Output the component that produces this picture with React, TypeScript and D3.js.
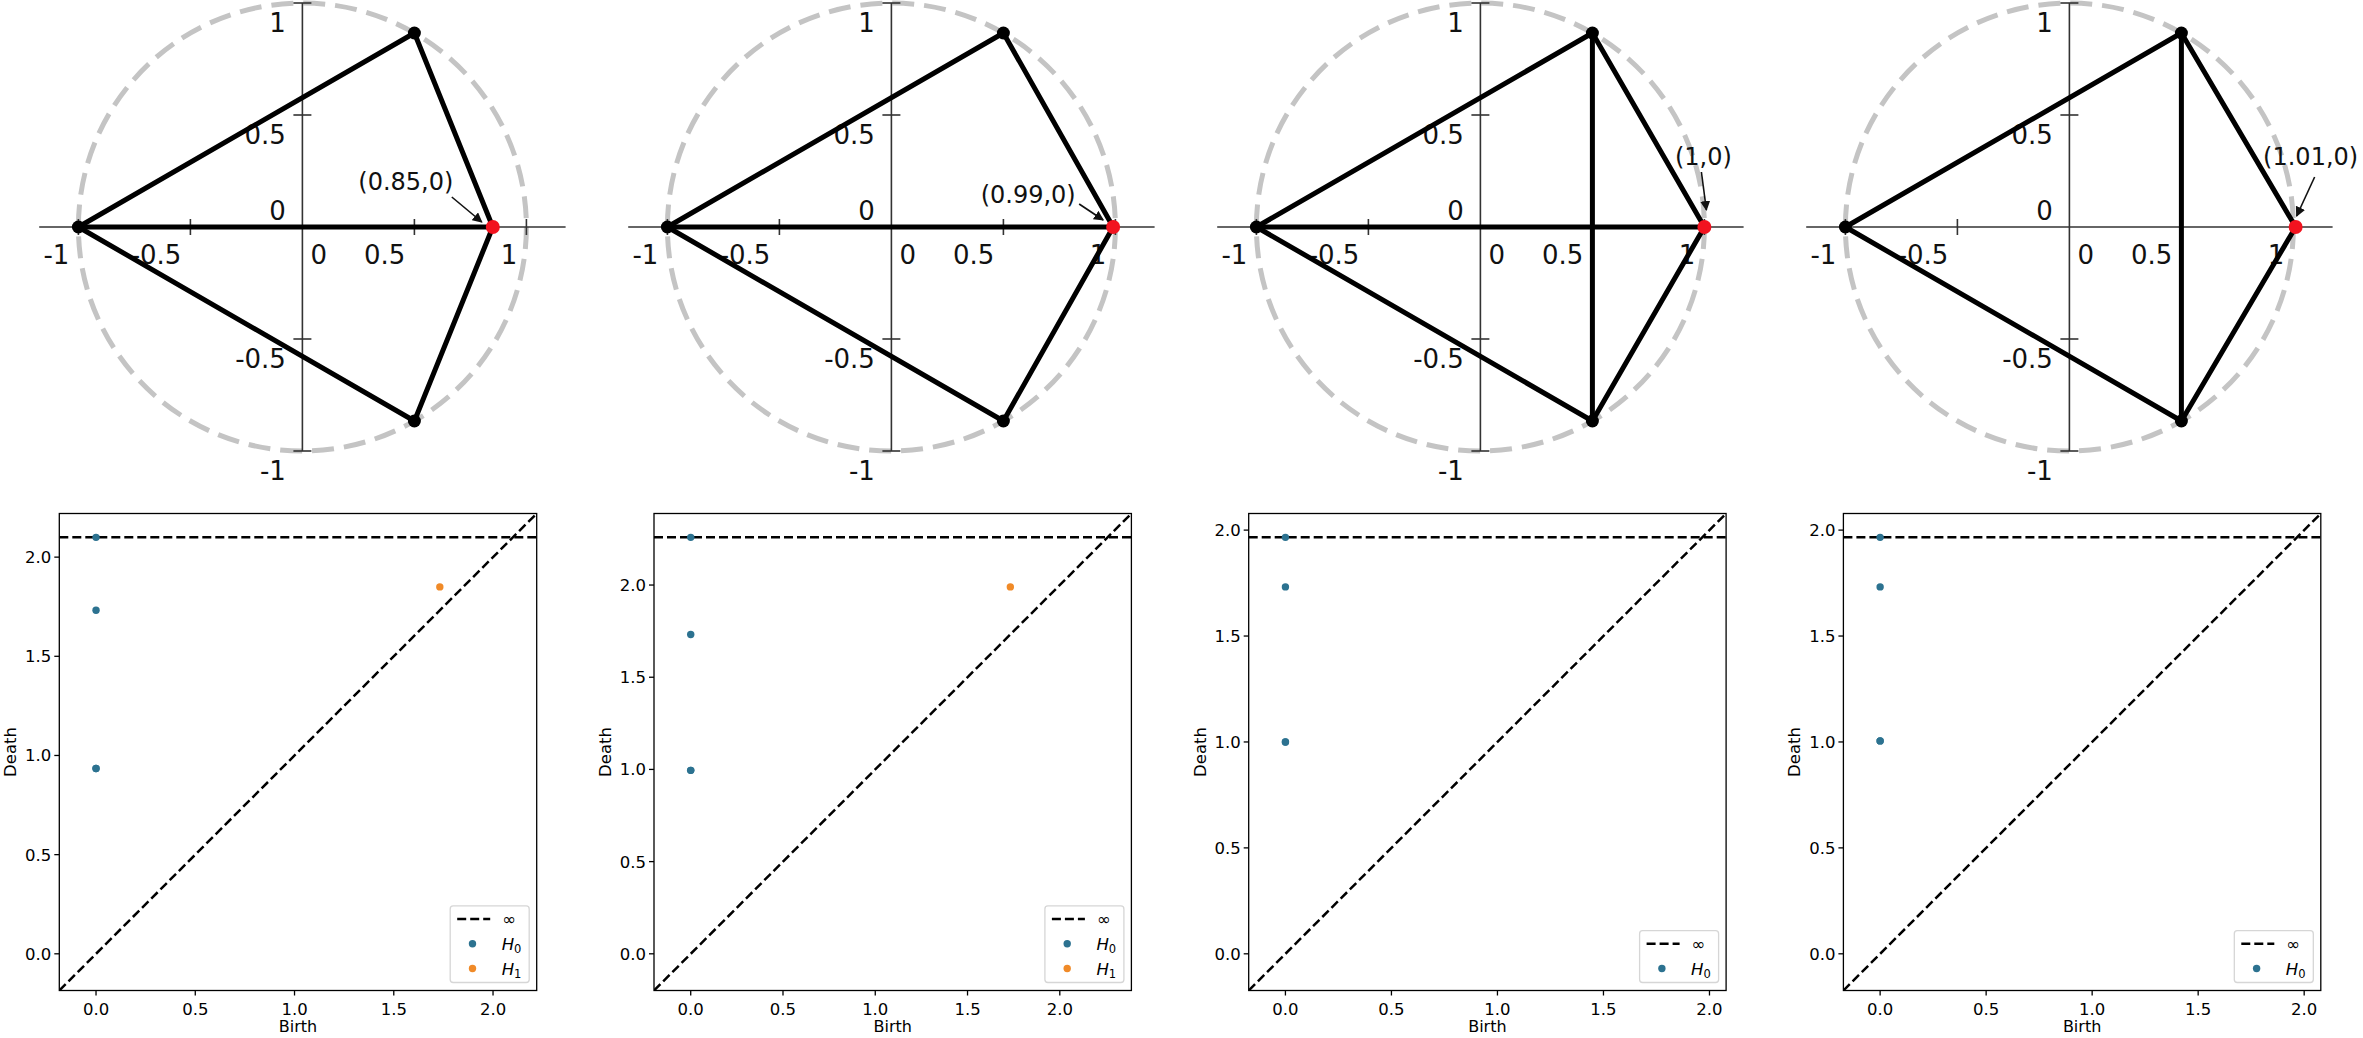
import * as d3 from 'd3';

const W = 2363;
const H = 1038;

// ---- top row: four-point clouds on the unit circle ----
const redX = [0.85, 0.99, 1.0, 1.01];
const redLabels = ['(0.85,0)', '(0.99,0)', '(1,0)', '(1.01,0)'];
const fixedPts: [number, number][] = [[-1, 0], [0.5, 0.866], [0.5, -0.866]];
// vertex index: 0 = (-1,0), 1 = top, 2 = bottom, 3 = red point
const edgeSets: [number, number][][] = [
  [[0, 1], [1, 3], [3, 2], [2, 0], [0, 3]],
  [[0, 1], [1, 3], [3, 2], [2, 0], [0, 3]],
  [[0, 1], [1, 3], [3, 2], [2, 0], [0, 3], [1, 2]],
  [[0, 1], [1, 3], [3, 2], [2, 0], [1, 2]],
];
const axisTicks = [-1, -0.5, 0, 0.5, 1];
const axisTickLabels = ['-1', '-0.5', '0', '0.5', '1'];

// ---- bottom row: persistence diagrams [birth, death] ----
const h0Sets: number[][][] = [
  [[0, 0.934], [0, 0.934], [0, 1.732], [0, Infinity]],
  [[0, 0.995], [0, 0.995], [0, 1.732], [0, Infinity]],
  [[0, 1.0], [0, 1.0], [0, 1.732], [0, Infinity]],
  [[0, 1.005], [0, 1.005], [0, 1.732], [0, Infinity]],
];
const h1Sets: number[][][] = [[[1.732, 1.85]], [[1.732, 1.99]], [], []];
const pdTicks = [0, 0.5, 1, 1.5, 2];

// annotation layout (pixel offsets from the red point)
const labelOff = [[-87, -37], [-85, -24], [-1, -62], [15, -62]];
const arrowFrom = [[-41, -30], [-34, -23], [-3, -55], [19, -50]];
const arrowTo = [[-11, -5], [-10, -7], [2, -17], [1, -11]];

const FONT = '"DejaVu Sans", Verdana, sans-serif';
const C0 = '#2c7290';
const C1 = '#f08a28';

function Cloud({ i }: { i: number }) {
  const ox = 302.4 + i * 589;
  const oy = 227;
  const R = 224;
  const x = d3.scaleLinear().domain([-1, 1]).range([ox - R, ox + R]);
  const y = d3.scaleLinear().domain([-1, 1]).range([oy + R, oy - R]);
  const pts: [number, number][] = [...fixedPts, [redX[i], 0]];
  const rx = x(redX[i]);
  const ry = y(0);
  return (
    <g>
      <circle cx={x(0)} cy={y(0)} r={x(1) - x(0)} fill="none" stroke="#c4c4c4"
        strokeWidth={5} strokeDasharray="22 10" />
      <line x1={x(-1.175)} x2={x(1.175)} y1={y(0)} y2={y(0)} stroke="#333" strokeWidth={1.6} />
      <line x1={x(0)} x2={x(0)} y1={y(1)} y2={y(-1)} stroke="#333" strokeWidth={1.6} />
      {axisTicks.filter((t) => t !== 0).map((t) => (
        <g key={'t' + t}>
          <line x1={x(t)} x2={x(t)} y1={y(0) - 8} y2={y(0) + 8} stroke="#333" strokeWidth={1.6} />
          <line x1={x(0) - 9} x2={x(0) + 9} y1={y(t)} y2={y(t)} stroke="#333" strokeWidth={1.6} />
        </g>
      ))}
      {axisTicks.map((t, k) => (
        <text key={'xl' + t} x={t === 0 ? x(t) + 8 : x(t) - 9} y={y(0) + 37}
          textAnchor={t === 0 ? 'start' : 'end'} fontSize={26} fontFamily={FONT} fill="#111">
          {axisTickLabels[k]}
        </text>
      ))}
      {axisTicks.map((t, k) => (
        <text key={'yl' + t} x={x(0) - 16.5} y={t === 0 ? y(t) - 7 : y(t) + 28.5}
          textAnchor="end" fontSize={26} fontFamily={FONT} fill="#111">
          {axisTickLabels[k]}
        </text>
      ))}
      <text x={rx + labelOff[i][0]} y={ry + labelOff[i][1]} textAnchor="middle"
        fontSize={24} fontFamily={FONT} fill="#111">
        {redLabels[i]}
      </text>
      <line x1={rx + arrowFrom[i][0]} y1={ry + arrowFrom[i][1]} x2={rx + arrowTo[i][0]} y2={ry + arrowTo[i][1]}
        stroke="#111" strokeWidth={1.6} markerEnd="url(#arrowhead)" />
      {edgeSets[i].map(([a, b], k) => (
        <line key={'e' + k} x1={x(pts[a][0])} y1={y(pts[a][1])} x2={x(pts[b][0])} y2={y(pts[b][1])}
          stroke="#000" strokeWidth={5} strokeLinecap="round" />
      ))}
      {pts.map((p, k) => (
        <circle key={'v' + k} cx={x(p[0])} cy={y(p[1])} r={k === 3 ? 7 : 6.5}
          fill={k === 3 ? '#f2131f' : '#000'} />
      ))}
    </g>
  );
}

function Diagram({ i }: { i: number }) {
  const left = 59.3 + i * 594.7;
  const top = 513.5;
  const w = 477.4;
  const h = 477;
  const h0 = h0Sets[i];
  const h1 = h1Sets[i];
  const finite = [...h0, ...h1].flat().filter((v) => Number.isFinite(v));
  const lo = d3.min(finite) as number;
  const hi = d3.max(finite) as number;
  const buffer = (hi - lo) / 5;
  const down = lo - buffer / 2;
  const up = hi + buffer;
  const bInf = down + (up - down) * 0.95;
  const x = d3.scaleLinear().domain([down, up]).range([left, left + w]);
  const y = d3.scaleLinear().domain([down, up]).range([top + h, top]);
  const fmt = d3.format('.1f');
  const yv = (v: number) => y(Number.isFinite(v) ? v : bInf);

  const rows = h1.length ? 3 : 2;
  const boxW = 79;
  const boxH = 13 + (rows - 1) * 24.8 + 14;
  const boxR = left + w - 7.5;
  const boxB = top + h - 8;
  const bx = boxR - boxW;
  const by = boxB - boxH;
  const rowY = (r: number) => by + 13 + r * 24.8;

  return (
    <g>
      <clipPath id={'clip' + i}>
        <rect x={left} y={top} width={w} height={h} />
      </clipPath>
      <g clipPath={`url(#clip${i})`}>
        <line x1={x(down)} x2={x(up)} y1={y(bInf)} y2={y(bInf)} stroke="#000" strokeWidth={2.5} strokeDasharray="9 4" />
        <line x1={x(down)} x2={x(up)} y1={y(down)} y2={y(up)} stroke="#000" strokeWidth={2.5} strokeDasharray="9 4" />
        {h0.map((d, k) => (
          <circle key={'a' + k} cx={x(d[0])} cy={yv(d[1])} r={3.7} fill={C0} />
        ))}
        {h1.map((d, k) => (
          <circle key={'b' + k} cx={x(d[0])} cy={yv(d[1])} r={3.7} fill={C1} />
        ))}
      </g>
      <rect x={left} y={top} width={w} height={h} fill="none" stroke="#000" strokeWidth={1.3} />
      {pdTicks.map((t) => (
        <g key={'k' + t} fontFamily={FONT} fontSize={16.5} fill="#000">
          <line x1={x(t)} x2={x(t)} y1={top + h} y2={top + h + 5} stroke="#000" strokeWidth={1.3} />
          <text x={x(t)} y={top + h + 24} textAnchor="middle">{fmt(t)}</text>
          <line x1={left - 5} x2={left} y1={y(t)} y2={y(t)} stroke="#000" strokeWidth={1.3} />
          <text x={left - 8} y={y(t) + 6} textAnchor="end">{fmt(t)}</text>
        </g>
      ))}
      <text x={left + w / 2} y={1032} textAnchor="middle" fontFamily={FONT} fontSize={16}>Birth</text>
      <text transform={`translate(${left - 43},${top + h / 2}) rotate(-90)`} textAnchor="middle"
        fontFamily={FONT} fontSize={16.5}>Death</text>

      <rect x={bx} y={by} width={boxW} height={boxH} rx={3} fill="#fff" fillOpacity={0.85}
        stroke="#d6d6d6" strokeWidth={1.3} />
      <line x1={bx + 7} x2={bx + 40} y1={rowY(0)} y2={rowY(0)} stroke="#000" strokeWidth={2.5} strokeDasharray="9 4" />
      <text x={bx + 52} y={rowY(0) + 6} fontFamily={FONT} fontSize={16.5}>∞</text>
      <circle cx={bx + 22.3} cy={rowY(1)} r={3.7} fill={C0} />
      <text x={bx + 51.5} y={rowY(1) + 6} fontFamily={FONT} fontSize={16.5}>
        <tspan fontStyle="italic">H</tspan><tspan fontSize={11.5} dy={3.5}>0</tspan>
      </text>
      {h1.length > 0 && (
        <g>
          <circle cx={bx + 22.3} cy={rowY(2)} r={3.7} fill={C1} />
          <text x={bx + 51.5} y={rowY(2) + 6} fontFamily={FONT} fontSize={16.5}>
            <tspan fontStyle="italic">H</tspan><tspan fontSize={11.5} dy={3.5}>1</tspan>
          </text>
        </g>
      )}
    </g>
  );
}

export default function App() {
  return (
    <svg width={W} height={H} viewBox={`0 0 ${W} ${H}`}
      style={{ position: 'absolute', left: 0, top: 0, background: '#fff' }}>
      <defs>
        <marker id="arrowhead" viewBox="0 0 10 10" refX={9} refY={5} markerWidth={10} markerHeight={10}
          markerUnits="userSpaceOnUse" orient="auto">
          <path d="M0,0 L10,5 L0,10 z" fill="#111" />
        </marker>
      </defs>
      <rect width={W} height={H} fill="#fff" />
      {[0, 1, 2, 3].map((i) => <Cloud key={'c' + i} i={i} />)}
      {[0, 1, 2, 3].map((i) => <Diagram key={'d' + i} i={i} />)}
    </svg>
  );
}
